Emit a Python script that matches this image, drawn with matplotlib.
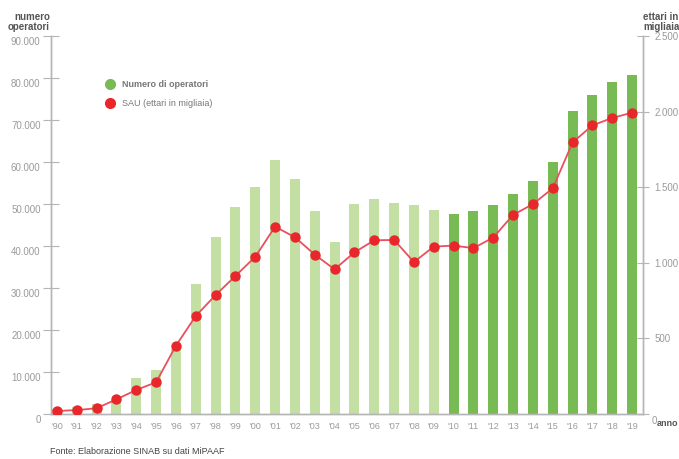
import numpy as np
import matplotlib
matplotlib.use("Agg")
import matplotlib.pyplot as plt
import matplotlib.transforms as mtransforms
from matplotlib.lines import Line2D

plt.rcParams['font.family'] = ['Liberation Sans', 'DejaVu Sans']

# ---------------------------------------------------------------------------
# Data
# ---------------------------------------------------------------------------
anni = list(range(1990, 2020))
tick_labels = ["'" + str(a)[2:] for a in anni]

operatori = [1300, 1700, 2500, 3300, 8500, 10500, 15500, 31000, 42200, 49200,
             54000, 60500, 55900, 48400, 41000, 50000, 51100, 50200, 49700, 48500,
             47663, 48269, 49709, 52383, 55433, 60067, 72154, 75873, 79046, 80643]

sau = [20, 26, 38, 97, 159, 210, 452, 648, 787, 913,
       1040, 1239, 1169, 1054, 957, 1069, 1149, 1151, 1005, 1107,
       1114, 1097, 1167, 1317, 1388, 1493, 1796, 1909, 1958, 1993]

left_ticks = [0, 10000, 20000, 30000, 40000, 50000, 60000, 70000, 80000, 90000]
left_tick_labels = ['0', '10.000', '20.000', '30.000', '40.000', '50.000',
                    '60.000', '70.000', '80.000', '90.000']
right_ticks = [0, 500, 1000, 1500, 2000, 2500]
right_tick_labels = ['0', '500', '1.000', '1.500', '2.000', '2.500']

# ---------------------------------------------------------------------------
light_green = '#c3dfa4'
dark_green = '#78bb55'
red = '#e8262b'
grey = '#9a9a9a'
spine_col = '#b5b5b5'

fig = plt.figure(figsize=(6.79, 4.59), dpi=100)
ax = fig.add_axes([51/679, 1 - 414/459, (643 - 51)/679, (414 - 36)/459])
ax2 = ax.twinx()

x = np.arange(len(anni))
colors = [light_green if a < 2010 else dark_green for a in anni]
ax.bar(x, operatori, width=0.5, color=colors, zorder=2)

ax2.plot(x, sau, color='#e8505c', lw=1.3, marker='o', markersize=6.5,
         markerfacecolor=red, markeredgecolor=red, zorder=3)

ax.set_xlim(-0.3, 29.55)
ax.set_ylim(0, 90000)
ax2.set_ylim(0, 2500)

ax.set_xticks(x)
ax.set_xticklabels(tick_labels)
ax.set_yticks(left_ticks)
ax.set_yticklabels(left_tick_labels)
ax2.set_yticks(right_ticks)
ax2.set_yticklabels(right_tick_labels)

ax.tick_params(axis='x', length=0, pad=6, labelsize=6.5, labelcolor=grey)
ax.tick_params(axis='y', direction='inout', length=11, width=0.8, color=spine_col,
               pad=2, labelsize=7, labelcolor=grey)
ax2.tick_params(axis='y', direction='inout', length=8, width=0.8, color=spine_col,
                pad=4, labelsize=7, labelcolor=grey)

for a in (ax, ax2):
    a.spines['top'].set_visible(False)
    for s in ('left', 'right', 'bottom'):
        a.spines[s].set_color(spine_col)
        a.spines[s].set_linewidth(1.0)

# left labels sit a little below their ticks
off = mtransforms.ScaledTranslation(0, -5/100, fig.dpi_scale_trans)
for lab in ax.get_yticklabels():
    lab.set_transform(lab.get_transform() + off)
ax2.yaxis.get_majorticklabels()[0].set_visible(False)

# axis titles
fig.text(50/679, 1 - 12/459, 'numero\noperatori', ha='right', va='top',
         fontsize=7, fontweight='bold', color='#555555', linespacing=0.95)
fig.text(643/679, 1 - 12/459, 'ettari in\nmigliaia', ha='left', va='top',
         fontsize=7, fontweight='bold', color='#555555', linespacing=0.95)
fig.text(652/679, 1 - 421/459, '0', ha='left', va='center', fontsize=7, color=grey)
fig.text(657/679, 1 - 424/459, 'anno', ha='left', va='center',
         fontsize=6.5, fontweight='bold', color='#555555')

# legend
handles = [Line2D([], [], ls='none', marker='o', markersize=7,
                  markerfacecolor=dark_green, markeredgecolor=dark_green),
           Line2D([], [], ls='none', marker='o', markersize=7,
                  markerfacecolor=red, markeredgecolor=red)]
leg = ax.legend(handles, ['Numero di operatori', 'SAU (ettari in migliaia)'],
                loc='upper left', bbox_to_anchor=(0.07, 0.905), frameon=False,
                fontsize=6.5, handletextpad=0.4, labelspacing=1.15)
leg.get_texts()[0].set_fontweight('bold')
for t in leg.get_texts():
    t.set_color('#777777')

fig.text(50/679, 1 - 452/459, 'Fonte: Elaborazione SINAB su dati MiPAAF',
         ha='left', va='center', fontsize=6.5, color='#444444')

fig.savefig('out.png', dpi=100)
